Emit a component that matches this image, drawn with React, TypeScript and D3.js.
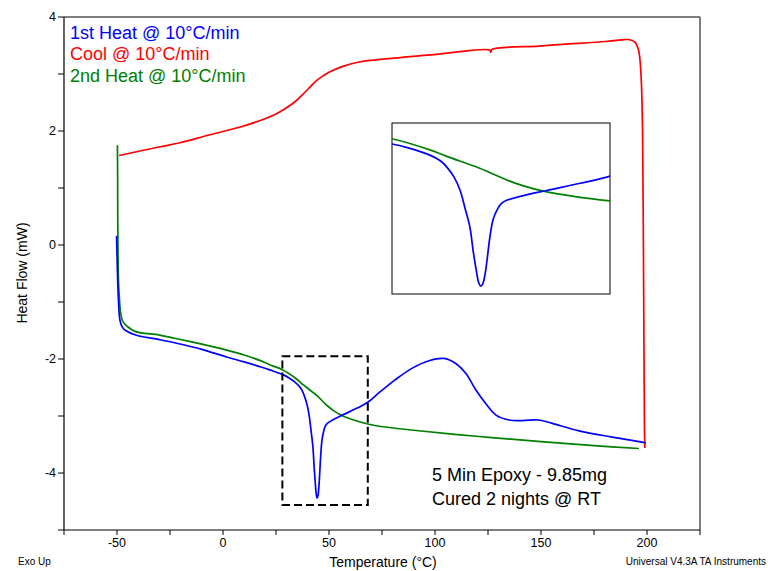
import React from "react";
import * as d3 from "d3";

// ---- Data ----
const heat1Temp = [-50.2, -49.9, -49.4, -48.6, -47.5, -45.9, -41.2, -30, -22.3, -10, 1.3, 10, 17, 22, 28, 31, 35, 37, 38.1, 39.5, 40.6, 41.5, 42.4, 43.0, 43.6, 44.0, 44.4, 44.8, 45.2, 45.6, 46.1, 46.7, 47.4, 48.2, 49.2, 51.7, 56.6, 62.8, 68.3, 73.6, 78.3, 81.4, 89.3, 97.2, 104.2, 109.8, 114.5, 119.2, 123.9, 128.6, 134.9, 141.2, 149, 155.3, 167.9, 183.6, 196.2, 199.5];
const heat1Flow = [0.16, -0.3, -0.9, -1.32, -1.44, -1.5, -1.58, -1.66, -1.72, -1.83, -1.96, -2.05, -2.13, -2.19, -2.27, -2.33, -2.44, -2.53, -2.62, -2.78, -2.98, -3.25, -3.54, -3.9, -4.21, -4.38, -4.44, -4.4, -4.26, -4.02, -3.69, -3.42, -3.28, -3.18, -3.13, -3.07, -2.98, -2.87, -2.76, -2.59, -2.45, -2.36, -2.16, -2.03, -1.99, -2.08, -2.25, -2.54, -2.78, -2.98, -3.07, -3.08, -3.07, -3.13, -3.26, -3.37, -3.45, -3.47];

const coolTemp = [199.0, 198.8, 198.6, 198.3, 197.9, 197.4, 196.8, 196.0, 194.5, 192, 188, 180.5, 160, 149, 126.8, 126.3, 125.8, 102, 78.3, 64.2, 56.2, 50, 46.5, 43.7, 40.5, 37.3, 33.5, 29.6, 25, 20.1, 9, -6.6, -20.8, -30.2, -49];
const coolFlow = [-3.56, -3.2, -2.0, 0.0, 2.0, 2.8, 3.2, 3.42, 3.55, 3.6, 3.6, 3.57, 3.52, 3.49, 3.43, 3.38, 3.42, 3.35, 3.27, 3.21, 3.13, 3.03, 2.95, 2.87, 2.75, 2.63, 2.5, 2.4, 2.3, 2.22, 2.08, 1.93, 1.79, 1.72, 1.57];

const heat2Temp = [-49.8, -49.7, -49.6, -49.1, -47.5, -45.1, -41.2, -30, -22.3, -10, 1.3, 10, 17, 22, 28, 35, 38.1, 44.2, 49.2, 52.3, 56, 61.6, 68.3, 73.6, 90, 120.8, 150, 175, 196.2];
const heat2Flow = [1.75, 1.2, 0.26, -0.79, -1.32, -1.43, -1.52, -1.58, -1.64, -1.74, -1.84, -1.93, -2.02, -2.1, -2.19, -2.36, -2.46, -2.64, -2.82, -2.91, -2.99, -3.07, -3.14, -3.18, -3.25, -3.36, -3.45, -3.52, -3.57];

const seriesNames = ["1st Heat @ 10°C/min", "Cool @ 10°C/min", "2nd Heat @ 10°C/min"];
const seriesColors = ["#0000ff", "#ff0000", "#008000"];

const xMajorTicks = [-50, 0, 50, 100, 150, 200];
const xMinorTicks = [-75, -25, 25, 75, 125, 175, 225];
const yMajorTicks = [-4, -2, 0, 2, 4];
const yMinorTicks = [-5, -3, -1, 1, 3];

const zoomTempRange = [28, 68.3];
const zoomFlowRange = [-4.56, -1.95];

const noteLines = ["5 Min Epoxy - 9.85mg", "Cured 2 nights @ RT"];

const FONT = "'Liberation Sans', Arial, sans-serif";

export default function App() {
  const W = 768, H = 571;
  const L = 64, R = 700, T = 17, B = 530;

  const x = d3.scaleLinear().domain([-75, 225]).range([L, R]);
  const y = d3.scaleLinear().domain([-5, 4]).range([B, T]);

  // inset
  const iL = 392, iR = 610, iT = 123, iB = 294;
  const xi = d3.scaleLinear().domain(zoomTempRange).range([iL, iR]);
  const yi = d3.scaleLinear().domain(zoomFlowRange).range([iB, iT]);

  const zip = (a: number[], b: number[]) => a.map((v, i) => [v, b[i]] as [number, number]);
  const series = [zip(heat1Temp, heat1Flow), zip(coolTemp, coolFlow), zip(heat2Temp, heat2Flow)];

  const mainLine = d3.line<[number, number]>().x(d => x(d[0])).y(d => y(d[1])).curve(d3.curveCatmullRom.alpha(0.5));
  const insetLine = d3.line<[number, number]>().x(d => xi(d[0])).y(d => yi(d[1])).curve(d3.curveCatmullRom.alpha(0.5));

  const drawOrder = [1, 2, 0];

  return (
    <svg width={W} height={H} style={{ position: "absolute", left: 0, top: 0, display: "block", background: "#fff" }} fontFamily={FONT}>
      <defs>
        <clipPath id="mainClip"><rect x={L} y={T} width={R - L} height={B - T} /></clipPath>
        <clipPath id="insetClip"><rect x={iL} y={iT} width={iR - iL} height={iB - iT} /></clipPath>
      </defs>
      <rect x={0} y={0} width={W} height={H} fill="#fff" />

      {/* frame */}
      <line x1={L} x2={R} y1={T} y2={T} stroke="#000" strokeWidth={1.2} />
      <line x1={R} x2={R} y1={T} y2={B} stroke="#555" strokeWidth={1.5} />
      <line x1={L} x2={L} y1={T} y2={B} stroke="#000" strokeWidth={1.2} />
      <line x1={L} x2={R} y1={B} y2={B} stroke="#000" strokeWidth={1.2} />

      {/* x ticks */}
      {xMajorTicks.concat(xMinorTicks).map(t => (
        <line key={"xt" + t} x1={x(t)} x2={x(t)} y1={B} y2={B + 5} stroke="#000" strokeWidth={1} />
      ))}
      {xMajorTicks.map(t => (
        <text key={"xl" + t} x={x(t)} y={B + 17} fontSize={12.5} textAnchor="middle" fill="#000">{t}</text>
      ))}
      {/* y ticks */}
      {yMajorTicks.concat(yMinorTicks).map(t => (
        <line key={"yt" + t} x1={L - 6} x2={L} y1={y(t)} y2={y(t)} stroke="#000" strokeWidth={1} />
      ))}
      {yMajorTicks.map(t => (
        <text key={"yl" + t} x={L - 8} y={y(t)} dy="0.35em" fontSize={12.5} textAnchor="end" fill="#000">{t}</text>
      ))}

      <text x={383} y={567} fontSize={14} textAnchor="middle" fill="#000">Temperature (°C)</text>
      <text transform={`translate(27,273) rotate(-90)`} fontSize={14} textAnchor="middle" fill="#000">Heat Flow (mW)</text>
      <text x={18} y={565} fontSize={10} fill="#000">Exo Up</text>
      <text x={766} y={565} fontSize={10} textAnchor="end" fill="#000">Universal V4.3A TA Instruments</text>

      {/* main curves */}
      <g clipPath="url(#mainClip)">
        {drawOrder.map(i => (
          <path key={"s" + i} d={mainLine(series[i]) || ""} fill="none" stroke={seriesColors[i]} strokeWidth={1.7} strokeLinejoin="round" />
        ))}
      </g>

      {/* legend */}
      {seriesNames.map((n, i) => (
        <text key={"lg" + i} x={70} y={39 + i * 21.3} fontSize={18} fill={seriesColors[i]}>{n}</text>
      ))}

      {/* dashed zoom box */}
      <rect x={x(zoomTempRange[0])} y={y(zoomFlowRange[1])} width={x(zoomTempRange[1]) - x(zoomTempRange[0])}
        height={y(zoomFlowRange[0]) - y(zoomFlowRange[1])} fill="none" stroke="#000" strokeWidth={2} strokeDasharray="8,4" />

      {/* inset */}
      <rect x={iL} y={iT} width={iR - iL} height={iB - iT} fill="#fff" stroke="#000" strokeWidth={1} />
      <g clipPath="url(#insetClip)">
        {[2, 0].map(i => (
          <path key={"in" + i} d={insetLine(series[i]) || ""} fill="none" stroke={seriesColors[i]} strokeWidth={1.7} strokeLinejoin="round" />
        ))}
      </g>

      {/* notes */}
      {noteLines.map((n, i) => (
        <text key={"n" + i} x={432} y={481 + i * 24} fontSize={18} fill="#000">{n}</text>
      ))}
    </svg>
  );
}
